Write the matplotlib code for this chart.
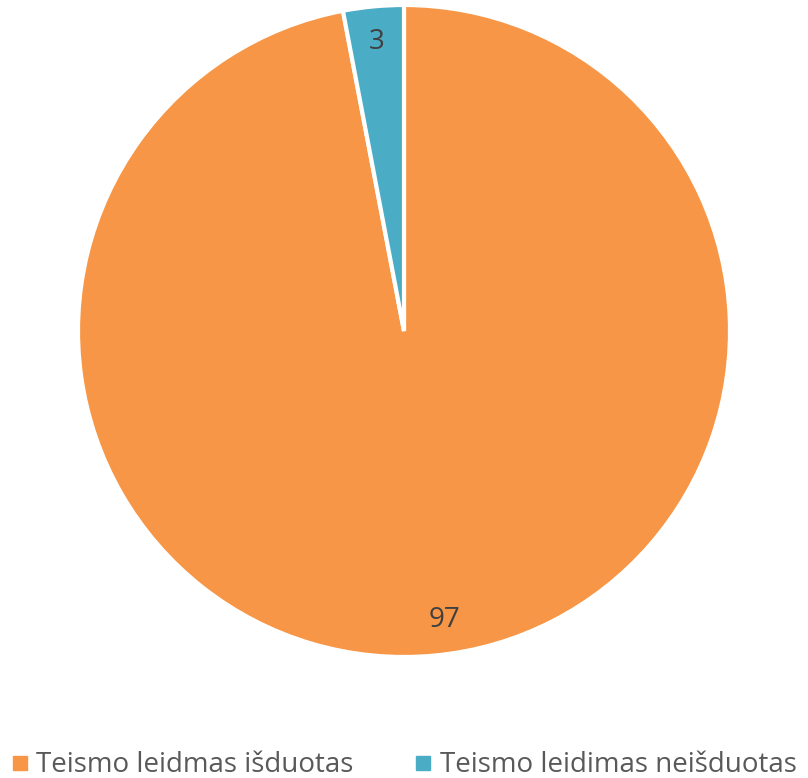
import matplotlib.pyplot as plt
from matplotlib.lines import Line2D

labels = ["Teismo leidmas išduotas", "Teismo leidimas neišduotas"]
values = [97, 3]
colors = ["#F79646", "#4BACC6"]

plt.rcParams['font.family'] = ['Open Sans', 'DejaVu Sans']

fig = plt.figure(figsize=(8.08, 7.78), dpi=100)
ax = fig.add_axes([78 / 808, 1 - 657 / 778, 652 / 808, 652 / 778])

wedges, texts, autotexts = ax.pie(
    values, colors=colors, startangle=90, counterclock=False,
    autopct=lambda p: f"{p * sum(values) / 100:.0f}", pctdistance=0.89,
    wedgeprops=dict(edgecolor="white", linewidth=3),
    textprops=dict(fontsize=20, color="#404040"))
# Excel-style offset of the big slice label
x, y = autotexts[0].get_position()
autotexts[0].set_position((x + 0.04, y))
ax.set_xlim(-1, 1)
ax.set_ylim(-1, 1)
ax.set_aspect("equal")

handles = [Line2D([], [], marker="s", linestyle="none", markersize=10,
                  markerfacecolor=c, markeredgecolor=c) for c in colors]
fig.legend(handles, labels, loc="lower center", ncol=2, frameon=False,
           bbox_to_anchor=(0.5, -0.034), fontsize=20, handletextpad=0.3,
           columnspacing=2.2, handlelength=0.6, labelcolor="#595959")

fig.savefig("out.png", dpi=100)
